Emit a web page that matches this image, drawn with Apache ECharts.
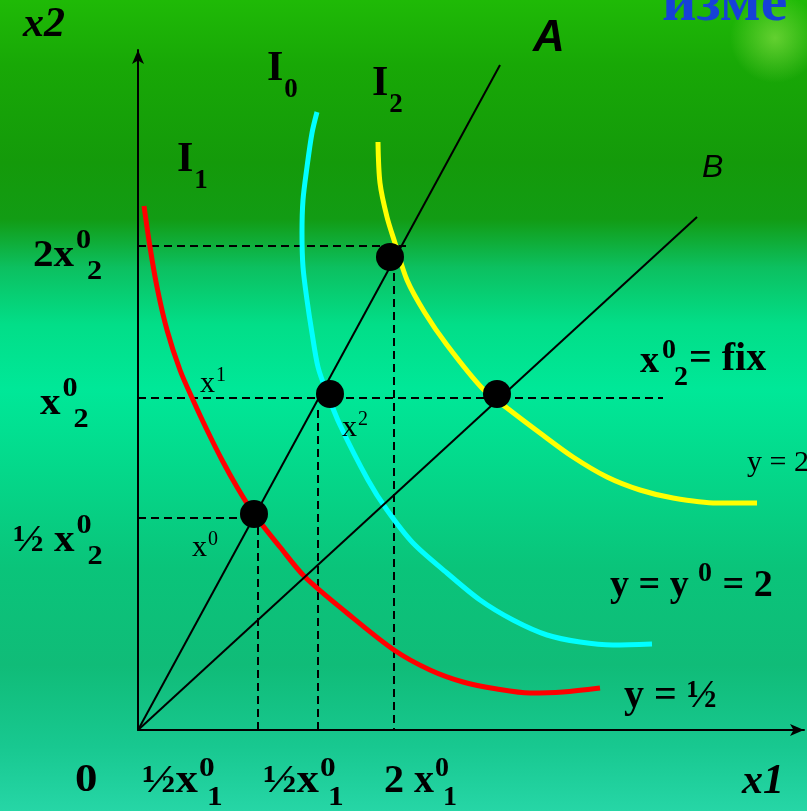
<!DOCTYPE html>
<html><head><meta charset="utf-8">
<script src="https://cdn.jsdelivr.net/npm/echarts@6/dist/echarts.min.js"></script>
<style>html,body{margin:0;padding:0;width:807px;height:811px;overflow:hidden}#c{width:807px;height:811px}</style>
</head><body><div id="c"></div>
<script>
// Values in drawing units (origin at the corner of the axes)
const curveI1 = [[0.6,52.4],[1.2,48.3],[1.9,44.3],[2.9,40.0],[4.2,36.0],[5.5,33.0],[6.9,30.0],[8.4,27.0],[9.9,24.3],[11.6,21.6],[14.2,18.3],[16.7,15.3],[20.9,11.7],[25.6,8.0],[29.2,6.0],[32.5,4.8],[35.9,4.1],[39.2,3.7],[42.5,3.8],[46.2,4.2]];
const curveI0 = [[17.9,61.8],[17.4,59.7],[16.9,56.3],[16.5,53.0],[16.4,49.7],[16.5,46.3],[16.9,43.0],[17.4,39.7],[18.0,36.3],[18.9,33.7],[20.2,30.5],[23.0,25.0],[24.9,22.0],[27.5,18.7],[30.9,15.7],[34.2,13.0],[37.5,11.0],[40.9,9.5],[44.2,8.8],[47.5,8.5],[51.4,8.6]];
const curveI2 = [[24.0,58.8],[24.2,54.7],[24.9,51.3],[25.7,48.7],[26.9,45.0],[28.7,41.7],[30.9,38.5],[34.4,34.2],[36.9,32.2],[40.2,29.7],[43.5,27.3],[46.9,25.3],[50.2,24.0],[53.5,23.2],[57.9,22.7],[61.9,22.7]];
const rayA = [[0,0],[36.2,66.5]];
const rayB = [[0,0],[55.9,51.3]];
const bundles = [[11.6,21.6],[19.2,33.6],[25.2,47.3],[35.9,33.6]];
const guideH = [[[0,48.4],[27.0,48.4]],[[0,33.2],[52.5,33.2]],[[0,21.2],[11.6,21.2]]];
const guideV = [[[12.0,21.6],[12.0,0]],[[18.0,32.0],[18.0,0]],[[25.6,45.7],[25.6,0]]];
const yTickLabels = [['2x','0','2'],['x','0','2'],['½ x','0','2']];
const xTickLabels = [['0','',''],['½x','0','1'],['½x','0','1'],['2 x','0','1']];
const curveNames = [['I','0'],['I','2'],['I','1']];
const pointNames = [['x','1'],['x','2'],['x','0']];

const SERIF='"Liberation Serif","Times New Roman",serif';
const SANS='"Liberation Sans",Arial,sans-serif';
const mctx=document.createElement('canvas').getContext('2d');
function W(t,f){mctx.font=f;return mctx.measureText(t).width;}
function T(x,y,text,font,fill,extra){return Object.assign({type:'text',x:x,y:y,z:50,silent:true,style:{text:text,font:font,fill:fill||'#000',align:'left',verticalAlign:'middle'}},extra||{});}
function S(x,y,parts,bf,sf,o,sx){
  sx=sx||1;
  const ex={scaleX:sx};
  const out=[T(x,y,parts[0],bf,null,ex)];
  const w=W(parts[0],bf)*sx;
  if(parts[1]) out.push(T(x+w+o[0],y+o[1],parts[1],sf,null,ex));
  if(parts[2]) out.push(T(x+w+o[2],y+o[3],parts[2],sf,null,ex));
  return out;
}
const B38='bold 38px '+SERIF, B28='bold 28px '+SERIF, B40='bold 40px '+SERIF;
let g=[];
// sparkle
g.push({type:'circle',shape:{cx:775,cy:38,r:45},silent:true,z:1,style:{fill:{type:'radial',x:0.5,y:0.5,r:0.5,colorStops:[{offset:0,color:'rgba(170,240,90,0.5)'},{offset:1,color:'rgba(170,240,90,0)'}]}}});
g.push(T(662,4,'изме','bold 60px '+SERIF,'#1641d8'));
g.push(T(23,25,'x2','bold italic 42px '+SERIF));
g.push(T(533,39,'A','bold italic 44px '+SANS));
g.push(T(702,168,'B','italic 32px '+SANS));
const yPos=[[33,256],[40,404],[13,541]];
yTickLabels.forEach((p,i)=>{g=g.concat(S(yPos[i][0],yPos[i][1],p,B38,B28,[2,-15,13,16],1.08));});
const xPos=[[75,781],[142,782],[263,782],[384,782]];
xTickLabels.forEach((p,i)=>{g=g.concat(S(xPos[i][0],xPos[i][1],p,B40,B28,[1,-13,9,16],i===3?1:1.12));});
g.push(T(742,782,'x1','bold italic 42px '+SERIF));
const cPos=[[267,69],[372,84],[177,160]];
curveNames.forEach((p,i)=>{g=g.concat(S(cPos[i][0],cPos[i][1],[p[0],'',p[1]],'bold 42px '+SERIF,'bold 27px '+SERIF,[0,0,1,21]));});
const pPos=[[200,384],[342,428],[192,548]];
pointNames.forEach((p,i)=>{g=g.concat(S(pPos[i][0],pPos[i][1],[p[0],p[1],''],'30px '+SERIF,'20px '+SERIF,[1,-8,0,0]));});
g=g.concat(S(640,362,['x','0','2'],B38,B28,[3,-11,15,16]));
g.push(T(689,360,'= fix',B40));
g.push(T(747,463,'y = 2','30px '+SERIF));
g.push(T(610,586,'y = y',B38));
g.push(T(698,574,'0',B28));
g.push(T(713,586,' = 2',B38));
g.push(T(624,697,'y = ½',B40));

const chart=echarts.init(document.getElementById('c'));
const series=[];
guideH.concat(guideV).forEach(d=>series.push({type:'line',data:d,symbol:'none',z:2,lineStyle:{color:'#000',width:2,type:[8,5]},silent:true}));
[[curveI1,'#ff0000'],[curveI0,'#00ffff'],[curveI2,'#ffff00']].forEach(c=>series.push({type:'line',data:c[0],smooth:0.3,symbol:'none',z:3,clip:false,lineStyle:{color:c[1],width:5,cap:'butt'}}));
[rayA,rayB].forEach(d=>series.push({type:'line',data:d,symbol:'none',z:4,lineStyle:{color:'#000',width:2}}));
series.push({type:'scatter',data:bundles,symbolSize:28,z:5,itemStyle:{color:'#000',opacity:1},emphasis:{disabled:true}});

chart.setOption({
  animation:false,
  backgroundColor:{type:'linear',x:0,y:0,x2:0,y2:1,colorStops:[
    {offset:0,color:'#1fba06'},{offset:0.08,color:'#18a806'},{offset:0.2,color:'#149a0a'},
    {offset:0.27,color:'#129c14'},{offset:0.33,color:'#0cc060'},{offset:0.40,color:'#02de88'},
    {offset:0.48,color:'#00e898'},{offset:0.58,color:'#04d88a'},{offset:0.7,color:'#0ac47a'},
    {offset:0.82,color:'#10bc78'},{offset:0.92,color:'#18c890'},{offset:1,color:'#26d6a6'}]},
  grid:{left:138,right:3,top:50,bottom:81},
  xAxis:{type:'value',min:0,max:66.6,axisLine:{lineStyle:{color:'#000',width:2},symbol:['none','arrow'],symbolSize:[9,14]},axisTick:{show:false},axisLabel:{show:false},splitLine:{show:false}},
  yAxis:{type:'value',min:0,max:68,axisLine:{lineStyle:{color:'#000',width:2},symbol:['none','arrow'],symbolSize:[9,14]},axisTick:{show:false},axisLabel:{show:false},splitLine:{show:false}},
  series:series,
  graphic:g
});
</script></body></html>
